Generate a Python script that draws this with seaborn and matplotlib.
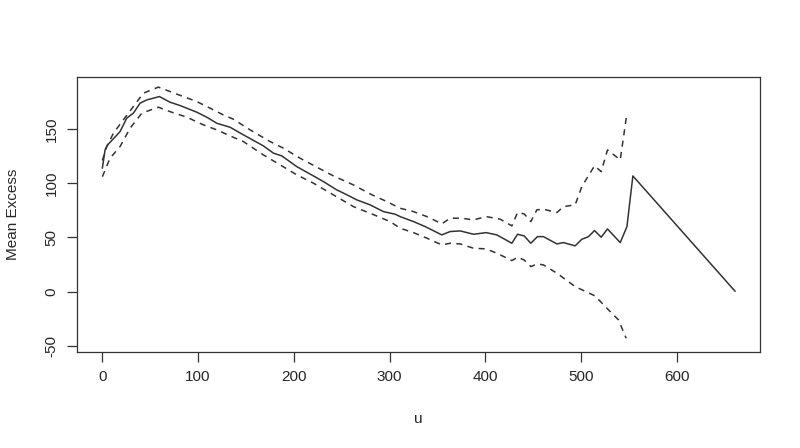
import numpy as np
import pandas as pd
import matplotlib
matplotlib.use("Agg")
import matplotlib.pyplot as plt
import seaborn as sns

# mean residual life: threshold u against mean excess
u_mean = [0, 2.8, 5.2, 18.5, 25.5, 32.4, 39.4, 46.4, 59.6, 70.7, 81.2, 98.6, 109,
          119.5, 133.4, 147.3, 168.2, 178.7, 187.4, 203.1, 220.5, 230.9, 244.9,
          253.6, 265.8, 279.7, 293.6, 305.9, 311, 325, 337.2, 354.6, 363.3, 373.8,
          387.7, 401, 412.1, 427.8, 433.7, 440.6, 447.6, 454.5, 460.8, 474.8,
          481.7, 493.9, 500.9, 507.8, 514.1, 521.1, 527.7, 541, 548, 554.2, 661]
mean_excess = [113.8, 130.7, 135, 147.6, 160, 164.6, 173.8, 176.8, 179.9, 174.7,
               171.6, 165.5, 160.9, 155.3, 151.6, 144.6, 134.4, 127.7, 125.2, 115.3,
               106.7, 101.5, 93.8, 90.1, 84.6, 80, 73.8, 71.4, 69.2, 64.6, 60, 52.3,
               55.4, 56, 52.9, 54.4, 52.3, 44.6, 52.9, 51.4, 44.6, 50.7, 50.7, 44,
               45.2, 42.2, 48.3, 50.7, 56.3, 50.2, 57.8, 45.2, 60, 106.7, 0.3]

u_upper = [0, 4.6, 11.5, 21.9, 32.4, 42.8, 58.5, 70.7, 84.6, 98.6, 112.5, 126.4,
           136.9, 154.3, 175.2, 189.1, 206.6, 224, 241.4, 262.3, 279.7, 297.2,
           311, 325, 339, 354.6, 363.3, 375.5, 387.7, 401, 415.6, 427.8, 433.7,
           440.6, 447.6, 453.9, 460.8, 474.8, 481.7, 493.9, 500.9, 514.1, 521.1,
           527.7, 541, 548]
ci_upper = [121, 133.8, 146, 158.4, 170.7, 183, 188.6, 184.5, 179.9, 175.3, 169.2,
            163, 159, 149.2, 138.4, 132.3, 123, 114.8, 106.7, 98.4, 90.1, 83, 76.9,
            73.8, 69.2, 62.5, 67.7, 67.7, 66.1, 69.2, 66.8, 60.6, 72.9, 71.7, 64.6,
            75.4, 76, 72.9, 78.4, 80, 96.9, 116, 110.7, 130.7, 121.5, 164.6]

u_lower = [0, 8, 18.5, 29, 41.2, 58.5, 70.7, 88.2, 105.5, 119.5, 133.4, 147.3,
           168.2, 185.7, 203.1, 220.5, 241.4, 262.3, 279.7, 300.6, 311, 325, 339,
           354.6, 363.3, 373.8, 387.7, 401, 412.1, 427.8, 433.7, 440.6, 447.6,
           454.5, 460.8, 474.8, 493.9, 514.8, 527, 539.2, 547.2]
ci_lower = [106, 123, 133.8, 150.7, 164.6, 170.1, 166, 160.9, 153.8, 149.2, 143.6,
            138.4, 126.1, 116.9, 107.7, 100, 89.2, 78.4, 72.3, 64.6, 58.5, 54.4,
            49.3, 43.1, 44.6, 44, 40, 39.4, 35.4, 28.6, 31.7, 29.2, 23.1, 25.6,
            24.6, 17, 4.6, -4, -15.3, -26.1, -43]

sns.set_theme(style="white")
plt.rcParams["font.family"] = ["Liberation Sans", "DejaVu Sans"]
plt.rcParams["axes.unicode_minus"] = False

fig = plt.figure(figsize=(8, 4.48), dpi=100)
ax = fig.add_axes([0.096, 0.215, 0.854, 0.614])

df_mean = pd.DataFrame({"u": u_mean, "me": mean_excess})
df_up = pd.DataFrame({"u": u_upper, "me": ci_upper})
df_lo = pd.DataFrame({"u": u_lower, "me": ci_lower})

sns.lineplot(data=df_mean, x="u", y="me", ax=ax, color="#333333", lw=1.1,
             sort=False, estimator=None)
for d in (df_up, df_lo):
    sns.lineplot(data=d, x="u", y="me", ax=ax, color="#333333", lw=1.1,
                 sort=False, estimator=None, dashes=False, linestyle=(0, (4, 3.5)))

ax.set_xlim(-26.7, 687)
ax.set_ylim(-55.4, 198.3)
ax.set_xticks([0, 100, 200, 300, 400, 500, 600])
ax.set_yticks([-50, 0, 50, 100, 150])
ax.set_xlabel("u", fontsize=11, labelpad=20)
ax.set_ylabel("Mean Excess", fontsize=11, labelpad=18)
for lab in ax.get_yticklabels():
    lab.set_rotation(90)
    lab.set_va("center")
ax.tick_params(axis="both", which="both", direction="out", length=7, width=0.9,
               color="#333333", labelsize=11, pad=6, bottom=True, left=True)
for s in ax.spines.values():
    s.set_color("#333333")
    s.set_linewidth(0.9)
ax.grid(False)

fig.savefig("out.png", dpi=100)
